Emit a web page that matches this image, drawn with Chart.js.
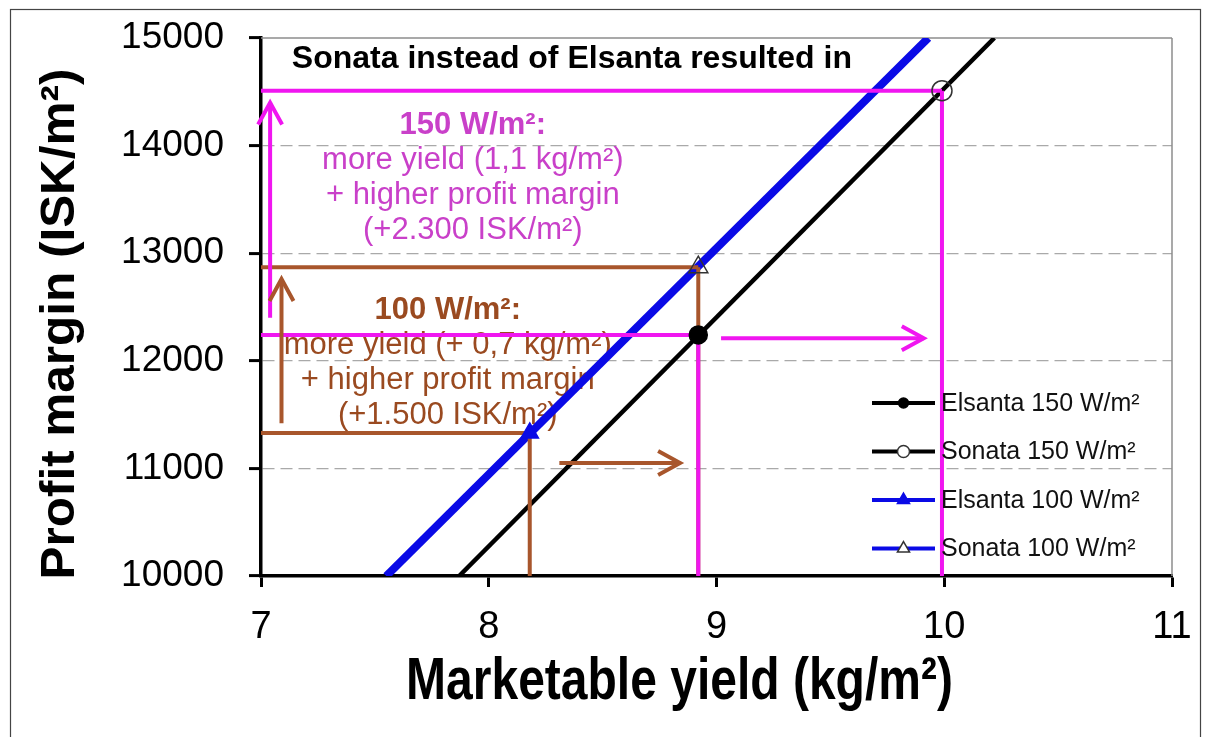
<!DOCTYPE html>
<html>
<head>
<meta charset="utf-8">
<script src="https://cdn.jsdelivr.net/npm/chart.js@4.4.1/dist/chart.umd.min.js"></script>
<style>
  html, body { margin: 0; padding: 0; background: #fff; }
  #wrap { position: relative; width: 1211px; height: 737px; }
</style>
</head>
<body>
<div id="wrap"><canvas id="chart" width="1211" height="737"></canvas></div>
<script>
// marketable yield (kg/m²) and profit margin (ISK/m²) per cultivar and light level
const seriesNames = ['Elsanta 150 W/m²', 'Sonata 150 W/m²', 'Elsanta 100 W/m²', 'Sonata 100 W/m²'];
const seriesYield = [8.92, 9.99, 8.18, 8.92];
const seriesMargin = [12240, 14510, 11330, 12870];

// profit lines for each light level
const line150Yield = [7.87, 10.22];
const line150Margin = [10000, 15000];
const line100Yield = [7.55, 9.93];
const line100Margin = [10000, 15000];

const yieldTicks = [7, 8, 9, 10, 11];
const marginTicks = [10000, 11000, 12000, 13000, 14000, 15000];

const xTitle = 'Marketable yield (kg/m²)';
const yTitle = 'Profit margin (ISK/m²)';
const headline = 'Sonata instead of Elsanta resulted in';
const notes150 = ['150 W/m²:', 'more yield (1,1 kg/m²)', '+ higher profit margin', '(+2.300 ISK/m²)'];
const notes100 = ['100 W/m²:', 'more yield (+ 0,7 kg/m²)', '+ higher profit margin', '(+1.500 ISK/m²)'];

const MAGENTA = '#F016F0';
const MAGENTA_TEXT = '#C940C9';
const BROWN = '#A8562C';
const BROWN_TEXT = '#9A4A20';
const BLUE = '#0A0AE6';
const SANS = "'Liberation Sans', Arial, sans-serif";

const E150 = 0, S150 = 1, E100 = 2, S100 = 3;

function pt(i) {
  return [{ x: seriesYield[i], y: seriesMargin[i] }];
}

function seg(ctx, x1, y1, x2, y2) {
  ctx.beginPath();
  ctx.moveTo(x1, y1);
  ctx.lineTo(x2, y2);
  ctx.stroke();
}

function arrow(ctx, x1, y1, x2, y2, color) {
  const head = 25, spread = 0.5;
  const a = Math.atan2(y2 - y1, x2 - x1);
  ctx.save();
  ctx.strokeStyle = color;
  ctx.lineWidth = 4;
  seg(ctx, x1, y1, x2, y2);
  ctx.beginPath();
  ctx.moveTo(x2 - head * Math.cos(a - spread), y2 - head * Math.sin(a - spread));
  ctx.lineTo(x2, y2);
  ctx.lineTo(x2 - head * Math.cos(a + spread), y2 - head * Math.sin(a + spread));
  ctx.stroke();
  ctx.restore();
}

// frame, plot border, axis titles and the text blocks sit under the data
const backdrop = {
  id: 'backdrop',
  beforeDatasetsDraw(chart) {
    const { ctx, chartArea: a, scales: { x, y } } = chart;
    ctx.save();
    ctx.strokeStyle = '#444';
    ctx.lineWidth = 1.2;
    ctx.strokeRect(10.5, 9.5, 1190, 760);
    ctx.strokeStyle = '#8c8c8c';
    ctx.lineWidth = 1.5;
    seg(ctx, a.left, a.top, a.right, a.top);
    seg(ctx, a.right, a.top, a.right, a.bottom);

    // axis titles, the x title set tall and tight
    ctx.fillStyle = '#000';
    ctx.textAlign = 'center';
    ctx.textBaseline = 'middle';
    ctx.font = 'bold 48px ' + SANS;
    ctx.save();
    ctx.translate((a.left + a.right) / 2 - 37, 682);
    ctx.scale(1, 1.25);
    ctx.fillText(xTitle, 0, 0);
    ctx.restore();
    ctx.save();
    ctx.translate(61, (a.top + a.bottom) / 2 + 17);
    ctx.rotate(-Math.PI / 2);
    ctx.scale(1.03, 1);
    ctx.fillText(yTitle, 0, 0);
    ctx.restore();

    ctx.font = 'bold 32px ' + SANS;
    ctx.fillText(headline, x.getPixelForValue(8.365), y.getPixelForValue(14800));

    const block = (lines, cx, top, color) => {
      lines.forEach((t, i) => {
        ctx.font = (i === 0 ? 'bold ' : '') + '31px ' + SANS;
        ctx.fillStyle = color;
        ctx.fillText(t, cx, top + i * 35);
      });
    };
    block(notes150, x.getPixelForValue(7.93), y.getPixelForValue(14190), MAGENTA_TEXT);
    block(notes100, x.getPixelForValue(7.82), y.getPixelForValue(12470), BROWN_TEXT);
    ctx.restore();
  }
};

// drop lines and arrows, drawn after the profit lines but before the markers
const guides = {
  id: 'guides',
  afterDatasetDraw(chart, args) {
    if (args.index !== 4) return;
    const { ctx, scales: { x, y } } = chart;
    const X = v => x.getPixelForValue(v), Y = v => y.getPixelForValue(v);
    const x0 = X(7), yb = Y(10000);
    ctx.save();
    ctx.lineWidth = 4;
    ctx.strokeStyle = BROWN;
    seg(ctx, x0, Y(seriesMargin[S100]), X(seriesYield[S100]), Y(seriesMargin[S100]));
    seg(ctx, X(seriesYield[S100]), Y(seriesMargin[S100]), X(seriesYield[S100]), yb);
    seg(ctx, x0, Y(seriesMargin[E100]), X(seriesYield[E100]), Y(seriesMargin[E100]));
    seg(ctx, X(seriesYield[E100]), Y(seriesMargin[E100]), X(seriesYield[E100]), yb);
    ctx.strokeStyle = MAGENTA;
    seg(ctx, x0, Y(seriesMargin[S150]), X(seriesYield[S150]), Y(seriesMargin[S150]));
    seg(ctx, X(seriesYield[S150]), Y(seriesMargin[S150]), X(seriesYield[S150]), yb);
    seg(ctx, x0, Y(seriesMargin[E150]), X(seriesYield[E150]), Y(seriesMargin[E150]));
    seg(ctx, X(seriesYield[E150]), Y(seriesMargin[E150]), X(seriesYield[E150]), yb);
    ctx.restore();

    arrow(ctx, X(7.04), Y(12400), X(7.04), Y(14400), MAGENTA);
    arrow(ctx, X(9.02), Y(12210), X(9.91), Y(12210), MAGENTA);
    arrow(ctx, X(7.09), Y(11420), X(7.09), Y(12760), BROWN);
    arrow(ctx, X(8.31), Y(11050), X(8.84), Y(11050), BROWN);
  }
};

// legend in the lower right corner of the plot
const cornerLegend = {
  id: 'cornerLegend',
  afterDatasetsDraw(chart) {
    const { ctx, chartArea: a } = chart;
    const rows = [
      { color: '#000', style: 'circle', r: 5, fill: '#000', stroke: '#000' },
      { color: '#000', style: 'circle', r: 6, fill: '#fff', stroke: '#333' },
      { color: BLUE, style: 'triangle', r: 7, fill: BLUE, stroke: BLUE },
      { color: BLUE, style: 'triangle', r: 7, fill: '#fff', stroke: '#333' }
    ];
    ctx.save();
    ctx.font = '25px ' + SANS;
    ctx.textBaseline = 'middle';
    ctx.textAlign = 'left';
    rows.forEach((r, i) => {
      const yy = a.bottom - 173 + i * 48.5;
      const x1 = a.right - 300, x2 = a.right - 237;
      ctx.strokeStyle = r.color;
      ctx.lineWidth = 4;
      seg(ctx, x1, yy, x2, yy);
      ctx.fillStyle = r.fill;
      ctx.strokeStyle = r.stroke;
      ctx.lineWidth = 1.5;
      Chart.helpers.drawPoint(ctx, { pointStyle: r.style, radius: r.r, borderWidth: 1.5, rotation: 0 }, (x1 + x2) / 2, yy);
      ctx.fillStyle = '#111';
      ctx.fillText(seriesNames[i], x2 + 6, yy + 1);
    });
    ctx.restore();
  }
};

new Chart(document.getElementById('chart'), {
  type: 'scatter',
  data: {
    datasets: [
      {
        label: seriesNames[E150], data: pt(E150),
        pointStyle: 'circle', pointRadius: 9,
        backgroundColor: '#000', borderColor: '#000', borderWidth: 1.5
      },
      {
        label: seriesNames[S150], data: pt(S150),
        pointStyle: 'circle', pointRadius: 10,
        backgroundColor: 'rgba(255,255,255,0)', borderColor: '#333', borderWidth: 1.5
      },
      {
        label: seriesNames[E100], data: pt(E100),
        pointStyle: 'triangle', pointRadius: 10,
        backgroundColor: BLUE, borderColor: BLUE, borderWidth: 1.5
      },
      {
        label: seriesNames[S100], data: pt(S100),
        pointStyle: 'triangle', pointRadius: 11,
        backgroundColor: 'rgba(255,255,255,0)', borderColor: '#333', borderWidth: 1.5
      },
      {
        label: '150 W/m²',
        data: line150Yield.map((v, i) => ({ x: v, y: line150Margin[i] })),
        showLine: true, borderColor: '#000', borderWidth: 4.5, pointRadius: 0
      },
      {
        label: '100 W/m²',
        data: line100Yield.map((v, i) => ({ x: v, y: line100Margin[i] })),
        showLine: true, borderColor: BLUE, borderWidth: 8, pointRadius: 0
      }
    ]
  },
  options: {
    responsive: false,
    animation: false,
    layout: { padding: { top: 38, right: 39, left: 0, bottom: 0 } },
    plugins: {
      legend: { display: false },
      tooltip: { enabled: false }
    },
    scales: {
      x: {
        type: 'linear',
        min: 7,
        max: 11,
        afterBuildTicks: s => { s.ticks = yieldTicks.map(v => ({ value: v })); },
        afterFit: s => { s.height = 161; s.paddingLeft = 0; s.paddingRight = 0; },
        border: { color: '#000', width: 3.5 },
        grid: { drawOnChartArea: false, tickColor: '#000', tickWidth: 3, tickLength: 11 },
        ticks: { color: '#000', font: { family: SANS, size: 38 }, padding: 18, callback: v => String(v) }
      },
      y: {
        type: 'linear',
        min: 10000,
        max: 15000,
        afterBuildTicks: s => { s.ticks = marginTicks.map(v => ({ value: v })); },
        afterFit: s => { s.width = 261; s.paddingTop = 0; s.paddingBottom = 0; },
        border: { color: '#000', width: 3.5, dash: [12, 6] },
        grid: {
          color: c => (c.tick && (c.tick.value === 10000 || c.tick.value === 15000)) ? 'rgba(0,0,0,0)' : '#a9a9a9',
          lineWidth: 1.2,
          tickColor: '#000', tickWidth: 3, tickLength: 12
        },
        ticks: { color: '#000', font: { family: SANS, size: 37 }, padding: 25, callback: v => String(v) }
      }
    }
  },
  plugins: [backdrop, guides, cornerLegend]
});
</script>
</body>
</html>
